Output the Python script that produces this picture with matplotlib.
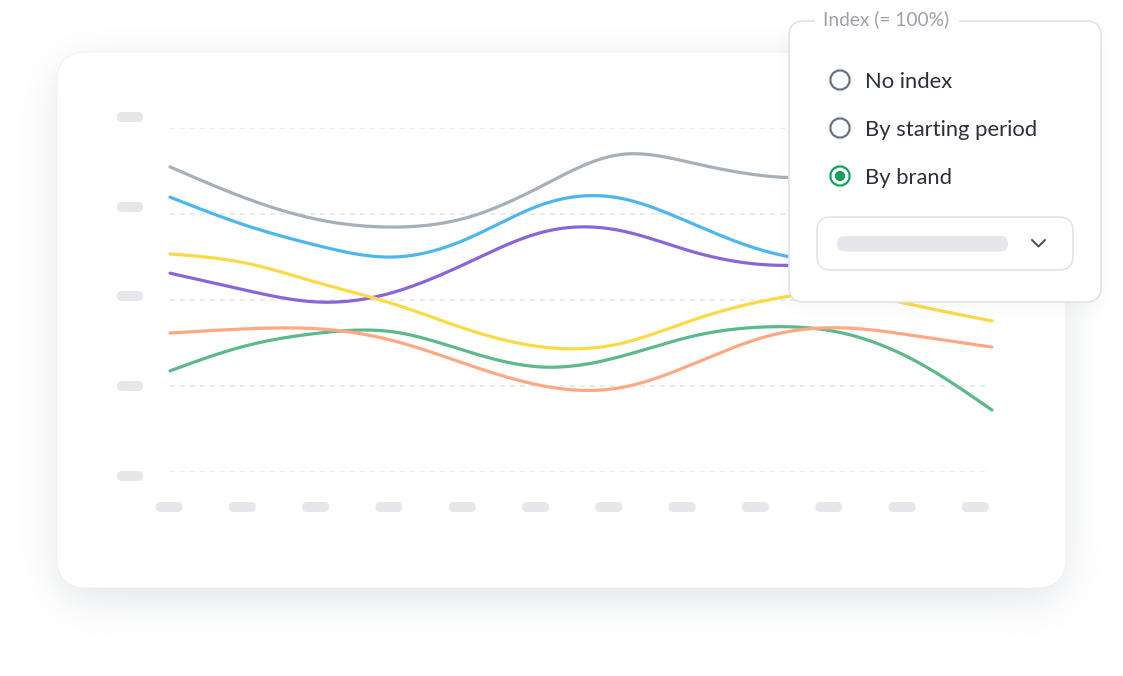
import numpy as np
import matplotlib
matplotlib.use("Agg")
import matplotlib.pyplot as plt
from matplotlib.patches import FancyBboxPatch, Circle

plt.rcParams['font.family'] = ['Lato', 'DejaVu Sans']
plt.rcParams['lines.scale_dashes'] = False

# 数据（网格 0..100，12 个时间点）
periods = list(range(12))
grid_levels = [0, 25, 50, 75, 100]
gray = [88.7, 79.7, 73.3, 71.2, 74.1, 83.4, 92.2, 89.8, 86.0, 85.5, 86.3, 87.2]
blue = [79.9, 71.8, 65.7, 62.5, 68.0, 77.9, 79.7, 72.1, 64.0, 61.0, 62.2, 64.5]
purple = [57.8, 52.9, 49.4, 52.3, 61.0, 69.8, 70.3, 64.0, 60.2, 61.0, 63.1, 64.5]
green = [29.4, 36.6, 40.4, 40.7, 34.9, 30.5, 33.4, 39.5, 42.2, 40.4, 32.0, 18.0]
orange = [40.4, 41.6, 41.6, 38.1, 31.1, 25.0, 24.4, 31.4, 39.5, 41.9, 39.5, 36.3]
yellow = [63.4, 60.8, 54.9, 48.8, 41.3, 36.3, 37.2, 44.2, 50.0, 52.0, 48.3, 43.9]
series = [gray, blue, purple, green, orange, yellow]
colors = ['#a7afba', '#4db6f1', '#8b64db', '#5bb98a', '#ffa882', '#fdda44']

options = ['No index', 'By starting period', 'By brand']
selected = 'By brand'
popup_title = 'Index (= 100%)'


def smooth(xs, ys, n=30):
    # 自然三次样条，让线条平滑
    xs = np.asarray(xs, float)
    ys = np.asarray(ys, float)
    k = len(xs)
    h = np.diff(xs)
    A = np.zeros((k, k))
    b = np.zeros(k)
    A[0, 0] = A[-1, -1] = 1
    for i in range(1, k - 1):
        A[i, i - 1] = h[i - 1]
        A[i, i] = 2 * (h[i - 1] + h[i])
        A[i, i + 1] = h[i]
        b[i] = 6 * ((ys[i + 1] - ys[i]) / h[i] - (ys[i] - ys[i - 1]) / h[i - 1])
    M = np.linalg.solve(A, b)
    out_x, out_y = [], []
    for i in range(k - 1):
        t = np.linspace(xs[i], xs[i + 1], n, endpoint=False)
        a = xs[i + 1] - t
        c = t - xs[i]
        y = (M[i] * a**3 + M[i + 1] * c**3) / (6 * h[i]) \
            + (ys[i] / h[i] - M[i] * h[i] / 6) * a \
            + (ys[i + 1] / h[i] - M[i + 1] * h[i] / 6) * c
        out_x.extend(t)
        out_y.extend(y)
    out_x.append(xs[-1])
    out_y.append(ys[-1])
    return np.array(out_x), np.array(out_y)


def rbox(ax, x0, y0, x1, y1, r, **kw):
    p = FancyBboxPatch((x0, y0), x1 - x0, y1 - y0,
                       boxstyle="round,pad=0,rounding_size=%g" % r, **kw)
    ax.add_patch(p)
    return p


def shadow_img(x0, y0, x1, y1, r, sigma, peak, W, H):
    # 圆角矩形蒙版 + 高斯模糊
    xx, yy = np.meshgrid(np.arange(W) + 0.5, np.arange(H) + 0.5)
    dx = np.maximum(np.maximum(x0 + r - xx, xx - (x1 - r)), 0)
    dy = np.maximum(np.maximum(y0 + r - yy, yy - (y1 - r)), 0)
    mask = (dx**2 + dy**2 <= r**2).astype(float)
    ks = np.arange(-3 * sigma, 3 * sigma + 1)
    ker = np.exp(-ks**2 / (2 * sigma**2))
    ker /= ker.sum()
    mask = np.apply_along_axis(lambda v: np.convolve(v, ker, mode='same'), 1, mask)
    mask = np.apply_along_axis(lambda v: np.convolve(v, ker, mode='same'), 0, mask)
    img = np.zeros((H, W, 4))
    img[..., 0] = 0.39
    img[..., 1] = 0.45
    img[..., 2] = 0.55
    img[..., 3] = mask * peak
    return img


W, H = 1123, 676
fig = plt.figure(figsize=(W / 100, H / 100), dpi=100)
fig.patch.set_facecolor('white')

# 背景层：卡片 + 阴影
bg = fig.add_axes([0, 0, 1, 1])
bg.set_xlim(0, W)
bg.set_ylim(H, 0)
bg.axis('off')

bg.imshow(shadow_img(60, 64, 1063, 598, 30, 20, 0.2, W, H),
          extent=(0, W, H, 0), zorder=1, interpolation='bilinear')
rbox(bg, 57, 52, 1066, 588, 30, facecolor='white', edgecolor='#eef0f2',
     lw=0.6, zorder=2)
bg.set_xlim(0, W)
bg.set_ylim(H, 0)

# 坐标轴占位块
pill = '#e5e7eb'
for yc in [117, 207, 296, 386, 476]:
    rbox(bg, 117, yc - 5, 143, yc + 5, 5, facecolor=pill, edgecolor='none', zorder=3)
for i in range(12):
    xc = 169 + i * 73.3
    rbox(bg, xc - 13.5, 502, xc + 13.5, 512, 5, facecolor=pill, edgecolor='none', zorder=3)

# 折线图
ax = fig.add_axes([170 / W, (H - 472) / H, 822 / W, 344 / H], zorder=2)
ax.patch.set_alpha(0)
ax.set_xlim(0, 11)
ax.set_ylim(0, 100)
ax.axis('off')
for v in grid_levels:
    ax.axhline(v, xmin=0, xmax=0.991, color='#e2e5e9', lw=1.1,
               dashes=(3.6, 3.6), zorder=1)
for s, c in zip(series, colors):
    sx, sy = smooth(periods, s)
    ax.plot(sx, sy, color=c, lw=2.3, solid_capstyle='round', clip_on=False, zorder=3)

# 弹出框
ov = fig.add_axes([0, 0, 1, 1], zorder=4)
ov.patch.set_alpha(0)
ov.axis('off')
ov.imshow(shadow_img(792, 28, 1098, 306, 15, 9, 0.07, W, H),
          extent=(0, W, H, 0), zorder=1, interpolation='bilinear')
ov.set_xlim(0, W)
ov.set_ylim(H, 0)

rbox(ov, 789, 21, 1101, 302, 15, facecolor='white', edgecolor='#e1e4e8',
     lw=1.2, zorder=2)
ov.add_patch(plt.Rectangle((815, 10), 144, 14, facecolor='white',
                           edgecolor='none', zorder=3))
ov.text(823, 19, popup_title, fontsize=13.8, color='#9ca2ab',
        ha='left', va='center', zorder=4)

for i, opt in enumerate(options):
    yc = 80 + i * 48
    if opt == selected:
        ov.add_patch(Circle((840, yc), 9.6, facecolor='white', edgecolor='#16a05d',
                            lw=1.6, zorder=4))
        ov.add_patch(Circle((840, yc), 5.2, facecolor='#16a05d', edgecolor='none',
                            zorder=5))
    else:
        ov.add_patch(Circle((840, yc), 9.6, facecolor='white', edgecolor='#697180',
                            lw=1.6, zorder=4))
    ov.text(865, yc + 1.5, opt, fontsize=15.8, color='#2a303a', ha='left',
            va='center', zorder=4)

# 下拉框
rbox(ov, 817, 217, 1073, 270, 14, facecolor='white', edgecolor='#e1e4e8',
     lw=1.2, zorder=4)
rbox(ov, 837, 236, 1008, 251.5, 7.5, facecolor=pill, edgecolor='none', zorder=5)
ov.plot([1032, 1038.5, 1045], [240, 246.5, 240], color='#4b5563', lw=1.5,
        solid_capstyle='round', solid_joinstyle='round', zorder=5)

fig.savefig('out.png', dpi=100)
